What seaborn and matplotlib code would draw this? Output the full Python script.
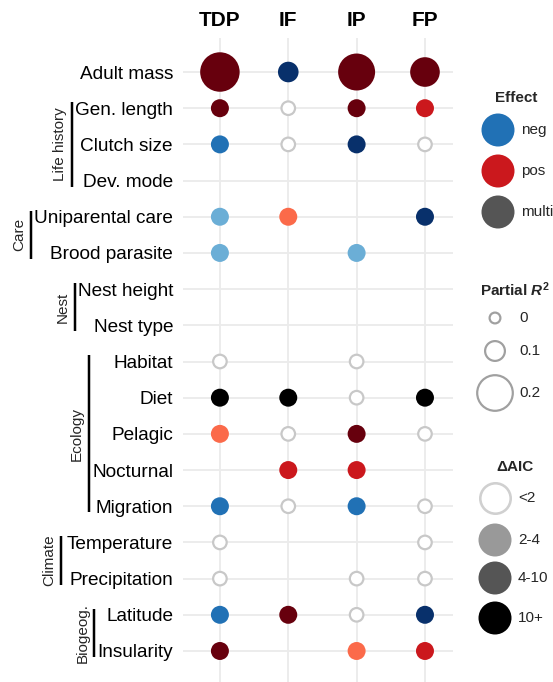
import numpy as np
import pandas as pd
import matplotlib
matplotlib.use("Agg")
import matplotlib.pyplot as plt
from matplotlib.transforms import blended_transform_factory
import seaborn as sns

# ---- data -----------------------------------------------------------------
responses = ["TDP", "IF", "IP", "FP"]
traits = ["Adult mass", "Gen. length", "Clutch size", "Dev. mode",
          "Uniparental care", "Brood parasite", "Nest height", "Nest type",
          "Habitat", "Diet", "Pelagic", "Nocturnal", "Migration",
          "Temperature", "Precipitation", "Latitude", "Insularity"]

group_names = ["Life history", "Care", "Nest", "Ecology", "Climate", "Biogeog."]
group_first = ["Gen. length", "Uniparental care", "Nest height", "Habitat",
               "Temperature", "Latitude"]
group_last = ["Dev. mode", "Brood parasite", "Nest type", "Migration",
              "Precipitation", "Insularity"]

pt_trait = ["Adult mass", "Adult mass", "Adult mass", "Adult mass",
            "Gen. length", "Gen. length", "Gen. length", "Gen. length",
            "Clutch size", "Clutch size", "Clutch size", "Clutch size",
            "Uniparental care", "Uniparental care", "Uniparental care",
            "Brood parasite", "Brood parasite",
            "Habitat", "Habitat",
            "Diet", "Diet", "Diet", "Diet",
            "Pelagic", "Pelagic", "Pelagic", "Pelagic",
            "Nocturnal", "Nocturnal",
            "Migration", "Migration", "Migration", "Migration",
            "Temperature", "Temperature",
            "Precipitation", "Precipitation", "Precipitation",
            "Latitude", "Latitude", "Latitude", "Latitude",
            "Insularity", "Insularity", "Insularity"]
pt_response = ["TDP", "IF", "IP", "FP",
               "TDP", "IF", "IP", "FP",
               "TDP", "IF", "IP", "FP",
               "TDP", "IF", "FP",
               "TDP", "IP",
               "TDP", "IP",
               "TDP", "IF", "IP", "FP",
               "TDP", "IF", "IP", "FP",
               "IF", "IP",
               "TDP", "IF", "IP", "FP",
               "TDP", "FP",
               "TDP", "IP", "FP",
               "TDP", "IF", "IP", "FP",
               "TDP", "IP", "FP"]
pt_effect = ["pos", "neg", "pos", "pos",
             "pos", "none", "pos", "pos",
             "neg", "none", "neg", "none",
             "neg", "pos", "neg",
             "neg", "neg",
             "none", "none",
             "multi", "multi", "none", "multi",
             "pos", "none", "pos", "none",
             "pos", "pos",
             "neg", "none", "neg", "none",
             "none", "none",
             "none", "none", "none",
             "neg", "pos", "none", "neg",
             "pos", "pos", "pos"]
pt_daic = ["10+", "10+", "10+", "10+",
           "10+", "<2", "10+", "4-10",
           "4-10", "<2", "10+", "<2",
           "2-4", "2-4", "10+",
           "2-4", "2-4",
           "<2", "<2",
           "10+", "10+", "<2", "10+",
           "2-4", "<2", "10+", "<2",
           "4-10", "4-10",
           "4-10", "<2", "4-10", "<2",
           "<2", "<2",
           "<2", "<2", "<2",
           "4-10", "10+", "<2", "10+",
           "10+", "2-4", "4-10"]
pt_r2 = [0.21, 0.09, 0.195, 0.15,
         0.07, 0.05, 0.07, 0.07,
         0.07, 0.05, 0.07, 0.05,
         0.07, 0.07, 0.07,
         0.07, 0.07,
         0.05, 0.05,
         0.07, 0.07, 0.05, 0.07,
         0.07, 0.05, 0.07, 0.05,
         0.07, 0.07,
         0.07, 0.05, 0.07, 0.05,
         0.05, 0.05,
         0.05, 0.05, 0.05,
         0.07, 0.07, 0.05, 0.07,
         0.07, 0.07, 0.07]

effect_levels = ["neg", "pos", "multi"]
daic_levels = ["<2", "2-4", "4-10", "10+"]
r2_breaks = [0, 0.1, 0.2]

# ---- styling --------------------------------------------------------------
shade = {
    "neg":   {"2-4": "#6BAED6", "4-10": "#2171B5", "10+": "#08306B"},
    "pos":   {"2-4": "#FB6A4A", "4-10": "#CB181D", "10+": "#67000D"},
    "multi": {"2-4": "#999999", "4-10": "#555555", "10+": "#000000"},
}
effect_key_colour = {"neg": "#2171B5", "pos": "#CB181D", "multi": "#555555"}
daic_key_colour = {"2-4": "#999999", "4-10": "#555555", "10+": "#000000"}
OPEN_EDGE = "#C8C8C8"

DPI = 100
W, H = 553, 682
PT_PER_PX = 72 / DPI


def diameter_px(r2):
    """Marker diameter (pixels) for a partial R2 value."""
    return np.sqrt(169 + 31500 * np.asarray(r2) ** 2)


def area_pt2(d_px):
    return (np.asarray(d_px) * PT_PER_PX) ** 2


sns.set_theme(style="white")
plt.rcParams["font.family"] = ["Liberation Sans", "DejaVu Sans"]
plt.rcParams["mathtext.fontset"] = "custom"
plt.rcParams["mathtext.rm"] = "Liberation Sans:bold"
plt.rcParams["mathtext.it"] = "Liberation Sans:bold:italic"
plt.rcParams["mathtext.bf"] = "Liberation Sans:bold"

df = pd.DataFrame({"trait": pt_trait, "response": pt_response,
                   "effect": pt_effect, "daic": pt_daic, "r2": pt_r2})
df["x"] = df["response"].map(responses.index)
df["y"] = df["trait"].map(traits.index)
df["key"] = df["effect"] + "|" + df["daic"]

filled = df[df["daic"] != "<2"].copy()
empty = df[df["daic"] == "<2"].copy()
filled["area"] = area_pt2(diameter_px(filled["r2"]))
OPEN_LW_PX = 2.2
empty["area"] = area_pt2(diameter_px(empty["r2"]) - OPEN_LW_PX)

palette = {f"{e}|{a}": shade[e][a] for e in shade for a in shade[e]}

fig = plt.figure(figsize=(W / DPI, H / DPI), dpi=DPI)
ax = fig.add_axes([183 / W, 0, (453 - 183) / W, 1 - 38 / H])

amin = float(min(filled["area"].min(), empty["area"].min()))
amax = float(max(filled["area"].max(), empty["area"].max()))

sns.scatterplot(data=empty, x="x", y="y", size="area", sizes=(amin, amax),
                size_norm=(amin, amax), color="white", edgecolor=OPEN_EDGE,
                linewidth=OPEN_LW_PX * PT_PER_PX, legend=False, ax=ax, zorder=3)
sns.scatterplot(data=filled, x="x", y="y", hue="key", palette=palette,
                size="area", sizes=(amin, amax), size_norm=(amin, amax),
                linewidth=0, legend=False, ax=ax, zorder=4)

ax.set_xlim(-0.54, 3.41)
ax.set_ylim(16.857, -0.94)
ax.set_xticks(range(len(responses)))
ax.set_xticklabels(responses, fontsize=15, fontweight="bold")
ax.xaxis.tick_top()
ax.set_yticks(range(len(traits)))
ax.set_yticklabels(traits, fontsize=13.7)
ax.tick_params(axis="both", length=0, colors="black")
ax.tick_params(axis="y", pad=7.2)
ax.tick_params(axis="x", pad=6)
ax.set_xlabel("")
ax.set_ylabel("")
ax.grid(True, color="#EBEBEB", linewidth=1.3)
ax.set_axisbelow(True)
for s in ax.spines.values():
    s.set_visible(False)

# ---- trait-group brackets --------------------------------------------------
fig.canvas.draw()
renderer = fig.canvas.get_renderer()
label_x0 = {t.get_text(): t.get_window_extent(renderer).x0
            for t in ax.get_yticklabels()}
trans = blended_transform_factory(fig.transFigure, ax.transData)
bar_gap = {"Climate": 6}
for name, first, last in zip(group_names, group_first, group_last):
    i0, i1 = traits.index(first), traits.index(last)
    members = traits[i0:i1 + 1]
    xpx = min(label_x0[m] for m in members) - bar_gap.get(name, 3)
    xf = xpx / W
    ax.plot([xf, xf], [i0 - 0.17, i1 + 0.17], color="black", lw=2.5 * PT_PER_PX,
            transform=trans, clip_on=False, solid_capstyle="butt")
    ax.text((xpx - 5) / W, (i0 + i1) / 2, name, rotation=90, ha="right",
            va="center", fontsize=11, transform=trans, clip_on=False)

# ---- legends (drawn on an overlay in pixel coordinates) ---------------------
lg = fig.add_axes([0, 0, 1, 1], facecolor="none")
lg.set_xlim(0, W)
lg.set_ylim(H, 0)
lg.axis("off")

KEY_D = 33
key_area = area_pt2(KEY_D)

lg.text(516, 98, "Effect", ha="center", va="center", fontsize=11,
        fontweight="bold")
eff_y = [130, 171, 212]
lg.scatter([498] * 3, eff_y, s=key_area,
           c=[effect_key_colour[e] for e in effect_levels], linewidths=0)
for yy, lab in zip(eff_y, effect_levels):
    lg.text(521, yy, lab, ha="left", va="center", fontsize=11)

lg.text(515, 290, r"Partial $R^2$", ha="center", va="center", fontsize=11,
        fontweight="bold")
r2_y = [318, 351, 393]
r2_lw = 2.2
lg.scatter([495] * 3, r2_y, s=area_pt2(diameter_px(r2_breaks) - r2_lw),
           facecolors="white", edgecolors="#A0A0A0",
           linewidths=r2_lw * PT_PER_PX)
for yy, b in zip(r2_y, r2_breaks):
    lg.text(519, yy, f"{b:g}", ha="left", va="center", fontsize=11)

lg.text(515, 467, "ΔAIC", ha="center", va="center", fontsize=11,
        fontweight="bold")
aic_y = [498, 540, 578, 618]
open_lw = 2.6
lg.scatter([495], [aic_y[0]], s=area_pt2(KEY_D - open_lw), facecolors="white",
           edgecolors="#D0D0D0", linewidths=open_lw * PT_PER_PX)
lg.scatter([495] * 3, aic_y[1:], s=key_area,
           c=[daic_key_colour[a] for a in daic_levels[1:]], linewidths=0)
for yy, lab in zip(aic_y, daic_levels):
    lg.text(518, yy, lab, ha="left", va="center", fontsize=11)

fig.savefig("out.png", dpi=DPI)
